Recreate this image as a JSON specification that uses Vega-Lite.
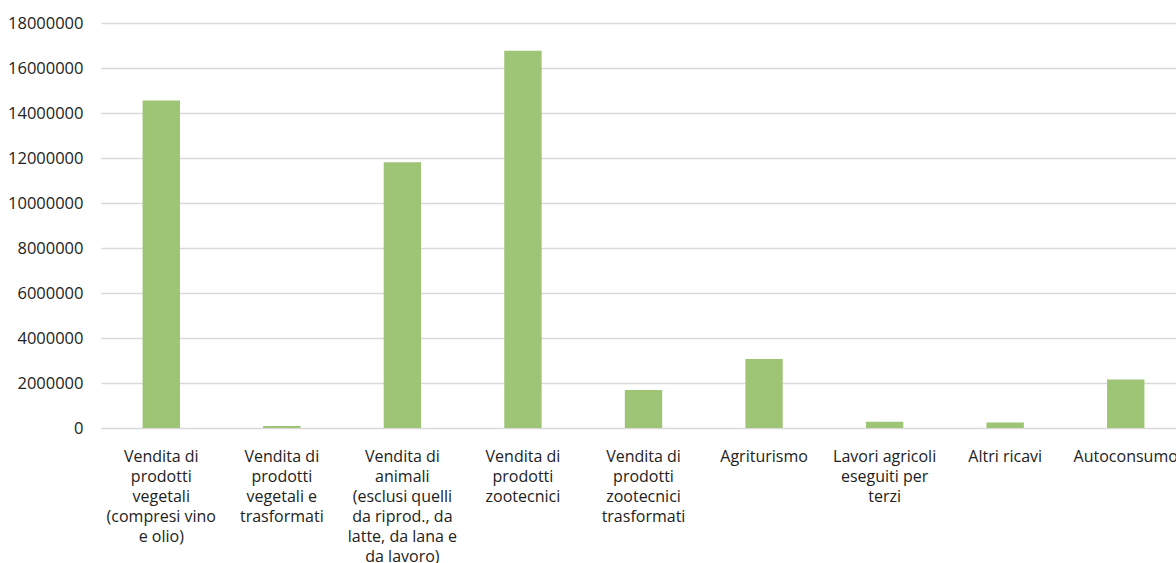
{
  "$schema": "https://vega.github.io/schema/vega-lite/v6.json",
  "autosize": {"type": "none"},
  "width": 1085,
  "height": 405,
  "padding": {"left": 101, "top": 23, "right": 0, "bottom": 135},
  "background": "white",
  "data": {
    "values": [
      {"voce": "Vendita di\nprodotti\nvegetali\n(compresi vino\ne olio)", "valore": 14560000},
      {"voce": "Vendita di\nprodotti\nvegetali e\ntrasformati", "valore": 90000},
      {"voce": "Vendita di\nanimali\n(esclusi quelli\nda riprod., da\nlatte, da lana e\nda lavoro)", "valore": 11810000},
      {"voce": "Vendita di\nprodotti\nzootecnici", "valore": 16770000},
      {"voce": "Vendita di\nprodotti\nzootecnici\ntrasformati", "valore": 1690000},
      {"voce": "Agriturismo", "valore": 3070000},
      {"voce": "Lavori agricoli\neseguiti per\nterzi", "valore": 280000},
      {"voce": "Altri ricavi", "valore": 250000},
      {"voce": "Autoconsumo", "valore": 2160000}
    ]
  },
  "mark": {"type": "bar", "color": "#9ec475", "width": {"band": 0.31}},
  "encoding": {
    "x": {
      "field": "voce",
      "type": "nominal",
      "sort": null,
      "scale": {"paddingInner": 0, "paddingOuter": 0},
      "axis": {
        "title": null,
        "labelAngle": 0,
        "labelExpr": "split(datum.label, '\\n')",
        "labelBaseline": "top",
        "labelLineHeight": 20,
        "labelPadding": 20,
        "labelFont": "Open Sans",
        "labelFontSize": 16,
        "labelColor": "#222222",
        "labelLimit": 200,
        "domain": false,
        "ticks": false,
        "grid": false
      }
    },
    "y": {
      "field": "valore",
      "type": "quantitative",
      "scale": {"domain": [0, 18000000], "nice": false},
      "axis": {
        "title": null,
        "values": [0, 2000000, 4000000, 6000000, 8000000, 10000000, 12000000, 14000000, 16000000, 18000000],
        "format": "d",
        "labelFont": "Open Sans",
        "labelFontSize": 16.5,
        "labelColor": "#222222",
        "labelPadding": 18,
        "domain": false,
        "ticks": false,
        "grid": true,
        "gridColor": "#d9d9d9",
        "gridWidth": 1.5
      }
    }
  },
  "config": {"view": {"stroke": null}}
}
